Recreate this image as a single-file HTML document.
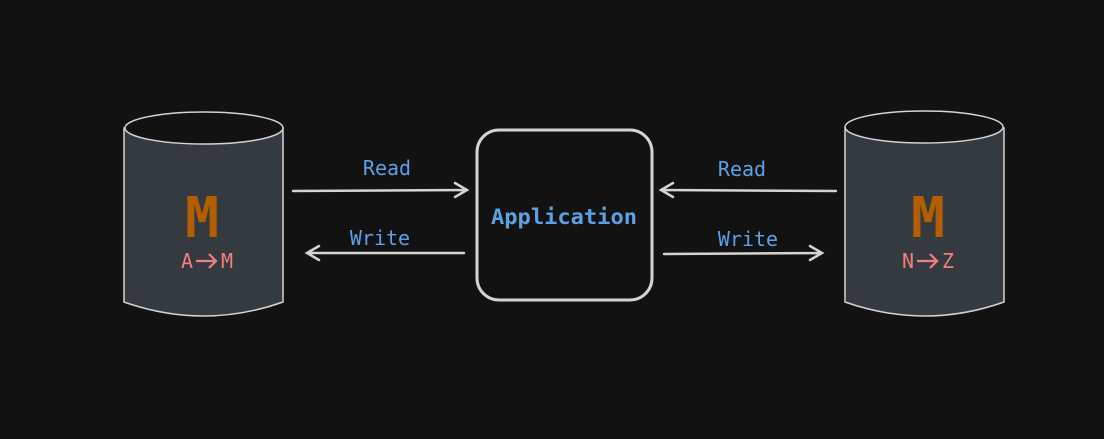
<!DOCTYPE html>
<html><head><style>
html,body{margin:0;padding:0;background:#121212;width:1104px;height:439px;overflow:hidden}
text{font-family:"DejaVu Sans Mono","Liberation Mono",monospace}
</style></head><body>
<svg width="1104" height="439" xmlns="http://www.w3.org/2000/svg">
<rect width="1104" height="439" fill="#121212"/>
<g stroke="#d4d4d4" stroke-width="1.5">
<path d="M124,128 L124,302 Q204,330 283,302 L283,128 Z" fill="#343a40"/>
<ellipse cx="204" cy="128" rx="79" ry="16" fill="#121212"/>
<path d="M845,128 L845,302 Q925,330 1004,302 L1004,128 Z" fill="#343a40"/>
<ellipse cx="924" cy="127" rx="79" ry="16" fill="#121212"/>
</g>
<rect x="477" y="130" width="175" height="170" rx="22" fill="#121212" stroke="#d4d4d4" stroke-width="3"/>
<g stroke="#d4d4d4" stroke-width="2.5" fill="none" stroke-linecap="round">
<path d="M293,191 L467,190 M455,183 L467,190 L455,197"/>
<path d="M464,253 L307,253 M319,246 L307,253 L319,260"/>
<path d="M836,191 L661,190 M673,183 L661,190 L673,197"/>
<path d="M664,254 L822,253 M810,246 L822,253 L810,260"/>
</g>
<g fill="#5aa2e6" font-size="20" text-anchor="middle">
<text x="387" y="175">Read</text>
<text x="380" y="245">Write</text>
<text x="742" y="176">Read</text>
<text x="748" y="246">Write</text>
<text x="564" y="224" font-weight="bold" font-size="21" textLength="146" lengthAdjust="spacingAndGlyphs">Application</text>
</g>
<g fill="#b35f00" font-size="56" font-weight="bold">
<text x="185" y="237" textLength="34" lengthAdjust="spacingAndGlyphs">M</text>
<text x="911" y="237" textLength="34" lengthAdjust="spacingAndGlyphs">M</text>
</g>
<g fill="#f08080" font-size="20">
<text x="181" y="268">A</text><text x="221" y="268">M</text>
<text x="902" y="268">N</text><text x="942" y="268">Z</text>
</g>
<g stroke="#f08080" stroke-width="2.2" fill="none">
<path d="M196,261 L216,261 M209,254 L216,261 L209,268"/>
<path d="M917,261 L937,261 M930,254 L937,261 L930,268"/>
</g>
</svg>
</body></html>
